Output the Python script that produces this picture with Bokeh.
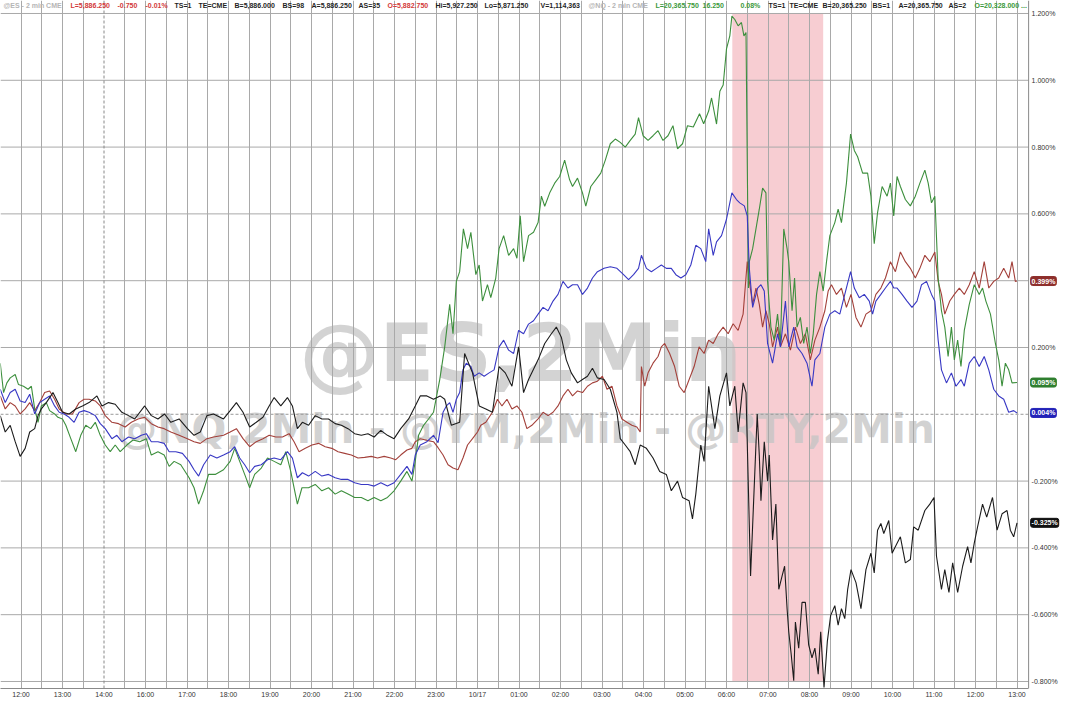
from bokeh.plotting import figure
from bokeh.models import Range1d, FixedTicker, Span, BoxAnnotation, Label, ColumnDataSource
from bokeh.core.properties import value
from bokeh.embed import file_html
from bokeh.resources import INLINE

# ---------------- data (x = session hour slot from 12:00, y = % change) ----------------
time_labels = ["12:00", "13:00", "14:00", "16:00", "17:00", "18:00", "19:00", "20:00", "21:00",
               "22:00", "23:00", "10/17", "01:00", "02:00", "03:00", "04:00", "05:00", "06:00",
               "07:00", "08:00", "09:00", "10:00", "11:00", "12:00", "13:00"]

y_ticks = [-0.8, -0.6, -0.4, -0.2, 0.2, 0.6, 0.8, 1.0, 1.2]
y_grid = [-0.8, -0.6, -0.4, -0.2, 0.2, 0.4, 0.6, 0.8, 1.0, 1.2]

band_start = 17.14   # ~06:08
band_end = 19.33     # ~08:20

rty_pts = [(-0.50,-0.004),(-0.38,-0.053),(-0.26,-0.033),(-0.14,-0.082),(-0.02,-0.126),(0.10,-0.102),(0.21,-0.053),
 (0.33,-0.043),(0.41,-0.004),(0.49,0.016),(0.61,0.035),(0.77,0.065),(0.89,0.035),(1.00,0.006),(1.16,0.001),(1.32,0.016),
 (1.48,0.025),(1.64,0.035),(1.83,0.055),(1.95,0.025),(2.11,0.035),(2.27,0.030),(2.43,0.006),(2.59,-0.004),(2.74,-0.014),
 (2.98,0.025),(3.14,-0.004),(3.30,-0.014),(3.46,0.001),(3.61,-0.024),(3.81,-0.014),(4.01,-0.043),(4.17,-0.063),(4.32,-0.053),
 (4.48,-0.004),(4.64,0.001),(4.88,-0.014),(5.04,0.011),(5.19,0.035),(5.35,0.006),(5.51,-0.038),(5.67,-0.024),(5.83,-0.009),
 (5.98,0.025),(6.10,0.050),(6.26,0.025),(6.42,0.050),(6.54,0.025),(6.66,-0.043),(6.78,-0.024),(6.93,-0.033),(7.09,-0.004),
 (7.25,-0.014),(7.41,-0.014),(7.57,-0.028),(7.72,-0.033),(7.88,-0.043),(8.04,-0.058),(8.20,-0.063),(8.36,-0.058),(8.51,-0.068),
 (8.67,-0.048),(8.83,-0.063),(8.99,-0.073),(9.15,-0.043),(9.34,-0.014),(9.50,0.025),(9.62,0.055),(9.78,0.055),(9.94,0.045),
 (10.10,0.055),(10.21,0.045),(10.37,-0.033),(10.57,-0.024),(10.69,0.182),(10.88,0.124),(11.04,0.025),(11.20,0.016),(11.36,0.006),
 (11.52,0.143),(11.67,0.124),(11.83,0.084),(11.99,0.202),(12.11,0.065),(12.23,0.104),(12.46,0.163),(12.62,0.212),(12.78,0.241),
 (12.90,0.261),(13.02,0.231),(13.14,0.163),(13.26,0.124),(13.41,0.094),(13.53,0.104),(13.65,0.114),(13.77,0.138),(13.89,0.109),
 (14.05,0.104),(14.20,0.075),(14.36,0.006),(14.44,-0.073),(14.56,-0.092),(14.68,-0.112),(14.80,-0.151),(14.92,-0.092),
 (15.07,-0.102),(15.23,-0.131),(15.39,-0.171),(15.55,-0.180),(15.67,-0.229),(15.82,-0.200),(15.94,-0.249),(16.10,-0.259),
 (16.18,-0.313),(16.26,-0.239),(16.38,-0.092),(16.46,-0.141),(16.57,0.084),(16.72,-0.043),(16.84,0.055),(17.00,0.124),
 (17.08,0.025),(17.20,0.084),(17.28,-0.053),(17.40,0.094),(17.47,0.065),(17.58,-0.484),(17.74,0.001),(17.79,-0.122),
 (17.83,-0.259),(17.91,-0.082),(17.99,-0.200),(18.03,-0.122),(18.11,-0.376),(18.19,-0.269),(18.26,-0.524),(18.34,-0.484),
 (18.40,-0.455),(18.46,-0.582),(18.50,-0.651),(18.56,-0.720),(18.62,-0.798),(18.66,-0.622),(18.74,-0.700),(18.82,-0.563),
 (18.90,-0.563),(18.98,-0.690),(19.06,-0.729),(19.13,-0.700),(19.21,-0.778),(19.27,-0.651),(19.35,-0.818),(19.43,-0.680),
 (19.51,-0.602),(19.61,-0.573),(19.69,-0.631),(19.77,-0.582),(19.85,-0.612),(19.92,-0.524),(20.00,-0.465),(20.12,-0.504),
 (20.24,-0.582),(20.36,-0.465),(20.48,-0.416),(20.56,-0.475),(20.64,-0.347),(20.72,-0.327),(20.79,-0.357),(20.91,-0.318),
 (20.99,-0.416),(21.11,-0.386),(21.19,-0.367),(21.31,-0.445),(21.43,-0.435),(21.51,-0.337),(21.62,-0.347),(21.78,-0.288),
 (21.90,-0.269),(22.00,-0.249),(22.06,-0.425),(22.18,-0.524),(22.26,-0.465),(22.36,-0.533),(22.45,-0.445),(22.57,-0.533),
 (22.69,-0.455),(22.81,-0.396),(22.89,-0.445),(22.97,-0.386),(23.05,-0.337),(23.17,-0.269),(23.27,-0.308),(23.41,-0.249),
 (23.52,-0.347),(23.64,-0.298),(23.76,-0.288),(23.84,-0.347),(23.92,-0.367),(24.00,-0.325)]

nq_pts = [(-0.50,0.153),(-0.42,0.065),(-0.34,0.094),(-0.26,0.109),(-0.14,0.119),(-0.06,0.089),(0.06,0.084),(0.17,0.075),
 (0.25,0.084),(0.33,0.016),(0.41,-0.024),(0.49,0.025),(0.61,0.035),(0.69,0.011),(0.81,0.001),(0.89,-0.009),(1.00,-0.014),
 (1.08,-0.033),(1.20,-0.073),(1.32,-0.112),(1.44,-0.063),(1.56,-0.033),(1.68,-0.043),(1.79,-0.024),(1.91,-0.063),(2.03,-0.092),
 (2.15,-0.112),(2.27,-0.092),(2.39,-0.112),(2.55,-0.092),(2.70,-0.077),(2.86,-0.082),(3.02,-0.073),(3.14,-0.122),(3.30,-0.112),
 (3.45,-0.122),(3.57,-0.156),(3.69,-0.141),(3.85,-0.151),(4.05,-0.190),(4.17,-0.220),(4.28,-0.269),(4.40,-0.229),(4.52,-0.180),
 (4.68,-0.180),(4.88,-0.166),(5.04,-0.141),(5.15,-0.102),(5.27,-0.141),(5.39,-0.180),(5.51,-0.220),(5.63,-0.180),(5.79,-0.161),
 (5.94,-0.131),(6.10,-0.141),(6.26,-0.151),(6.38,-0.112),(6.50,-0.171),(6.66,-0.269),(6.77,-0.220),(6.93,-0.220),(7.09,-0.210),
 (7.25,-0.229),(7.41,-0.220),(7.57,-0.239),(7.72,-0.229),(7.88,-0.239),(8.04,-0.249),(8.20,-0.249),(8.36,-0.259),(8.51,-0.249),
 (8.67,-0.259),(8.83,-0.249),(8.99,-0.229),(9.15,-0.200),(9.30,-0.171),(9.42,-0.200),(9.50,-0.141),(9.58,-0.063),(9.70,-0.033),
 (9.82,-0.014),(9.94,0.006),(10.09,0.104),(10.21,0.202),(10.33,0.329),(10.41,0.241),(10.49,0.398),(10.57,0.427),(10.66,0.555),
 (10.76,0.496),(10.84,0.545),(10.96,0.418),(11.04,0.447),(11.12,0.339),(11.24,0.388),(11.32,0.349),(11.44,0.408),(11.52,0.496),
 (11.63,0.535),(11.75,0.476),(11.87,0.496),(11.95,0.467),(12.03,0.594),(12.11,0.457),(12.23,0.535),(12.35,0.545),(12.46,0.574),
 (12.54,0.653),(12.62,0.623),(12.74,0.663),(12.86,0.692),(12.98,0.712),(13.10,0.761),(13.22,0.702),(13.29,0.682),(13.41,0.707),
 (13.53,0.663),(13.61,0.623),(13.73,0.682),(13.85,0.702),(13.97,0.722),(14.08,0.761),(14.20,0.810),(14.32,0.824),(14.44,0.814),
 (14.56,0.800),(14.68,0.820),(14.80,0.839),(14.88,0.888),(14.99,0.834),(15.11,0.820),(15.23,0.834),(15.35,0.849),(15.47,0.820),
 (15.59,0.834),(15.71,0.864),(15.82,0.795),(15.94,0.810),(16.06,0.864),(16.20,0.860),(16.35,0.900),(16.45,0.870),(16.57,0.908),
 (16.64,0.947),(16.76,0.869),(16.84,0.967),(16.92,0.986),(17.00,1.094),(17.08,1.133),(17.13,1.192),(17.20,1.182),(17.28,1.163),
 (17.36,1.173),(17.42,1.133),(17.47,1.143),(17.53,0.378),(17.55,0.457),(17.63,0.496),(17.71,0.555),(17.79,0.614),(17.87,0.677),
 (17.95,0.663),(17.99,0.398),(18.07,0.261),(18.15,0.222),(18.23,0.300),(18.30,0.212),(18.38,0.555),(18.46,0.496),(18.50,0.457),
 (18.58,0.310),(18.64,0.408),(18.70,0.261),(18.78,0.290),(18.86,0.212),(18.94,0.261),(19.02,0.182),(19.09,0.241),(19.17,0.359),
 (19.25,0.427),(19.33,0.369),(19.41,0.457),(19.49,0.535),(19.61,0.574),(19.69,0.614),(19.77,0.574),(19.89,0.692),(19.99,0.839),
 (20.08,0.790),(20.16,0.771),(20.28,0.722),(20.40,0.722),(20.48,0.653),(20.56,0.511),(20.64,0.604),(20.75,0.682),(20.87,0.653),
 (20.95,0.692),(21.03,0.594),(21.11,0.712),(21.19,0.682),(21.31,0.643),(21.43,0.624),(21.55,0.653),(21.66,0.692),(21.78,0.731),
 (21.86,0.692),(21.94,0.633),(22.02,0.653),(22.10,0.408),(22.18,0.310),(22.26,0.261),(22.34,0.173),(22.42,0.261),(22.49,0.163),
 (22.57,0.222),(22.65,0.143),(22.73,0.251),(22.85,0.329),(22.97,0.388),(23.09,0.359),(23.17,0.378),(23.25,0.339),(23.36,0.300),
 (23.48,0.212),(23.56,0.163),(23.64,0.084),(23.72,0.153),(23.80,0.133),(23.88,0.094),(24.00,0.095)]

es_pts = [(-0.50,0.075),(-0.38,0.035),(-0.26,0.065),(-0.14,0.075),(-0.02,0.040),(0.10,0.035),(0.21,0.060),(0.33,0.001),
 (0.45,0.035),(0.57,0.045),(0.69,0.055),(0.81,0.025),(0.92,0.006),(1.04,0.001),(1.16,-0.009),(1.28,-0.024),(1.40,0.006),
 (1.52,0.011),(1.64,0.006),(1.79,-0.004),(1.91,-0.028),(2.03,-0.043),(2.19,-0.073),(2.31,-0.063),(2.43,-0.082),(2.59,-0.068),
 (2.74,-0.073),(2.90,-0.063),(3.02,-0.058),(3.14,-0.082),(3.30,-0.082),(3.45,-0.087),(3.57,-0.112),(3.73,-0.112),(3.89,-0.117),
 (4.05,-0.141),(4.17,-0.166),(4.28,-0.185),(4.40,-0.151),(4.56,-0.122),(4.72,-0.131),(4.88,-0.122),(5.04,-0.112),(5.15,-0.097),
 (5.27,-0.131),(5.39,-0.151),(5.51,-0.175),(5.63,-0.156),(5.79,-0.151),(5.94,-0.136),(6.10,-0.131),(6.26,-0.136),(6.42,-0.112),
 (6.54,-0.131),(6.66,-0.190),(6.78,-0.175),(6.93,-0.185),(7.09,-0.171),(7.25,-0.185),(7.41,-0.180),(7.57,-0.190),(7.72,-0.195),
 (7.88,-0.195),(8.04,-0.205),(8.20,-0.210),(8.36,-0.210),(8.51,-0.215),(8.67,-0.205),(8.83,-0.215),(8.99,-0.205),(9.15,-0.180),
 (9.30,-0.156),(9.42,-0.180),(9.50,-0.122),(9.62,-0.092),(9.78,-0.082),(9.94,-0.063),(10.05,-0.085),(10.17,0.006),(10.25,0.025),
 (10.33,0.035),(10.41,0.006),(10.49,0.045),(10.57,0.065),(10.65,0.133),(10.73,0.153),(10.84,0.143),(10.92,0.114),(11.04,0.124),
 (11.16,0.114),(11.28,0.124),(11.40,0.133),(11.52,0.202),(11.63,0.222),(11.75,0.192),(11.87,0.182),(11.99,0.251),(12.11,0.241),
 (12.23,0.270),(12.35,0.280),(12.46,0.300),(12.58,0.320),(12.70,0.310),(12.82,0.339),(12.94,0.359),(13.06,0.398),(13.18,0.378),
 (13.29,0.388),(13.41,0.388),(13.53,0.359),(13.65,0.378),(13.77,0.408),(13.89,0.427),(14.05,0.437),(14.20,0.442),(14.36,0.437),
 (14.52,0.418),(14.64,0.403),(14.76,0.418),(14.88,0.437),(14.95,0.476),(15.07,0.437),(15.19,0.427),(15.31,0.437),(15.43,0.447),
 (15.55,0.437),(15.67,0.437),(15.78,0.418),(15.90,0.408),(16.02,0.418),(16.14,0.447),(16.26,0.506),(16.38,0.496),(16.50,0.457),
 (16.57,0.555),(16.68,0.476),(16.76,0.516),(16.88,0.535),(17.00,0.584),(17.08,0.633),(17.13,0.663),(17.24,0.643),(17.32,0.633),
 (17.43,0.624),(17.50,0.594),(17.55,0.437),(17.63,0.320),(17.75,0.378),(17.83,0.388),(17.91,0.369),(17.99,0.212),(18.11,0.153),
 (18.23,0.241),(18.30,0.202),(18.42,0.339),(18.50,0.202),(18.62,0.261),(18.70,0.202),(18.82,0.182),(18.94,0.153),(19.06,0.084),
 (19.13,0.163),(19.25,0.182),(19.37,0.261),(19.49,0.300),(19.61,0.310),(19.73,0.300),(19.85,0.359),(19.99,0.427),(20.08,0.378),
 (20.20,0.349),(20.32,0.359),(20.44,0.339),(20.52,0.300),(20.60,0.339),(20.72,0.359),(20.83,0.378),(20.95,0.398),(21.03,0.378),
 (21.11,0.378),(21.23,0.359),(21.35,0.339),(21.47,0.320),(21.59,0.339),(21.70,0.388),(21.82,0.398),(21.94,0.359),(22.02,0.339),
 (22.10,0.222),(22.18,0.133),(22.30,0.094),(22.42,0.124),(22.53,0.084),(22.65,0.104),(22.73,0.084),(22.85,0.153),(22.97,0.173),
 (23.09,0.143),(23.21,0.173),(23.32,0.133),(23.44,0.075),(23.56,0.055),(23.68,0.045),(23.80,0.006),(23.92,0.011),(24.00,0.004)]

ym_pts = [(-0.50,0.055),(-0.38,0.016),(-0.26,0.035),(-0.14,0.025),(-0.02,0.001),(0.10,0.016),(0.21,0.035),(0.33,0.011),
 (0.45,0.035),(0.57,0.065),(0.69,0.070),(0.81,0.045),(0.92,0.016),(1.08,0.001),(1.24,0.001),(1.40,0.035),(1.52,0.045),
 (1.64,0.045),(1.79,0.040),(1.91,0.025),(2.03,-0.004),(2.19,-0.024),(2.35,-0.028),(2.51,-0.038),(2.66,-0.024),(2.82,-0.014),
 (2.98,-0.009),(3.14,-0.028),(3.30,-0.038),(3.45,-0.043),(3.61,-0.053),(3.81,-0.063),(4.01,-0.073),(4.17,-0.082),(4.32,-0.087),
 (4.48,-0.073),(4.64,-0.068),(4.88,-0.063),(5.04,-0.053),(5.19,-0.043),(5.35,-0.073),(5.51,-0.097),(5.67,-0.082),(5.83,-0.073),
 (5.98,-0.063),(6.14,-0.068),(6.30,-0.068),(6.46,-0.058),(6.58,-0.082),(6.70,-0.112),(6.85,-0.102),(7.01,-0.092),(7.17,-0.087),
 (7.33,-0.097),(7.49,-0.102),(7.64,-0.112),(7.80,-0.117),(7.96,-0.122),(8.12,-0.131),(8.28,-0.129),(8.44,-0.126),(8.59,-0.131),
 (8.75,-0.126),(8.91,-0.131),(9.03,-0.136),(9.15,-0.122),(9.30,-0.107),(9.42,-0.102),(9.50,-0.082),(9.62,-0.073),(9.78,-0.078),
 (9.94,-0.082),(10.05,-0.100),(10.17,-0.122),(10.29,-0.151),(10.41,-0.161),(10.53,-0.166),(10.65,-0.131),(10.76,-0.092),
 (10.88,-0.073),(11.00,-0.053),(11.08,-0.033),(11.20,-0.024),(11.36,0.006),(11.48,0.045),(11.59,0.025),(11.71,0.045),
 (11.83,0.016),(11.95,0.025),(12.07,0.006),(12.19,-0.043),(12.31,-0.033),(12.46,-0.014),(12.58,0.006),(12.70,-0.004),
 (12.82,0.006),(12.94,0.025),(13.06,0.055),(13.18,0.075),(13.29,0.055),(13.41,0.070),(13.53,0.065),(13.65,0.084),(13.77,0.094),
 (13.89,0.099),(14.01,0.114),(14.12,0.075),(14.24,0.084),(14.36,0.025),(14.48,-0.014),(14.60,-0.024),(14.72,-0.033),
 (14.84,-0.038),(14.92,-0.053),(14.95,0.143),(15.03,0.084),(15.11,0.124),(15.23,0.153),(15.35,0.173),(15.43,0.202),(15.51,0.212),
 (15.63,0.182),(15.75,0.143),(15.86,0.084),(15.98,0.065),(16.10,0.104),(16.22,0.143),(16.34,0.202),(16.46,0.182),(16.57,0.222),
 (16.68,0.212),(16.80,0.241),(16.92,0.261),(17.04,0.241),(17.16,0.271),(17.28,0.251),(17.40,0.300),(17.50,0.457),(17.55,0.398),
 (17.63,0.329),(17.71,0.378),(17.79,0.329),(17.87,0.261),(17.95,0.310),(18.03,0.271),(18.11,0.202),(18.23,0.261),(18.30,0.202),
 (18.42,0.241),(18.54,0.192),(18.66,0.261),(18.78,0.212),(18.90,0.241),(19.02,0.163),(19.13,0.222),(19.25,0.261),(19.37,0.310),
 (19.45,0.369),(19.53,0.388),(19.65,0.359),(19.77,0.378),(19.89,0.320),(20.00,0.359),(20.12,0.290),(20.24,0.261),(20.36,0.300),
 (20.48,0.310),(20.60,0.359),(20.72,0.378),(20.83,0.408),(20.95,0.457),(21.07,0.427),(21.19,0.486),(21.31,0.457),(21.43,0.437),
 (21.55,0.408),(21.66,0.437),(21.78,0.476),(21.90,0.457),(22.02,0.486),(22.10,0.398),(22.18,0.359),(22.26,0.300),(22.38,0.339),
 (22.49,0.359),(22.61,0.378),(22.73,0.359),(22.85,0.388),(22.97,0.427),(23.09,0.378),(23.21,0.457),(23.32,0.378),(23.44,0.398),
 (23.56,0.408),(23.68,0.437),(23.80,0.408),(23.88,0.457),(23.96,0.398),(24.00,0.399)]

header_parts = [
    ("@ES - 2 min  CME", "grey"), ("L=5,886.250", "red"), ("-0.750", "red"), ("-0.01%", "red"),
    ("TS=1", "black"), ("TE=CME", "black"), ("B=5,886.000", "black"), ("BS=98", "black"),
    ("A=5,886.250", "black"), ("AS=35", "black"), ("O=5,882.750", "red"), ("Hi=5,927.250", "black"),
    ("Lo=5,871.250", "black"), ("V=1,114,363", "black"),
    ("@NQ - 2 min  CME", "grey"), ("L=20,365.750", "green"), ("16.250", "green"), ("0.08%", "green"),
    ("TS=1", "black"), ("TE=CME", "black"), ("B=20,365.250", "black"), ("BS=1", "black"),
    ("A=20,365.750", "black"), ("AS=2", "black"), ("O=20,328.000 ...", "green"),
]

# ---------------- layout / style ----------------
W, H = 1064, 702
X0, XU = 20.5, 41.5              # pixel of slot 0 and pixels per slot (layout only)
AXIS_U = 24.28                   # slot where the right price axis sits
header_px = [3, 70, 117, 145, 174, 198, 234, 282, 311, 358, 387, 435, 484,
             540, 588, 655, 702, 740, 768, 789, 822, 872, 898, 948, 974]
hdr_colors = {"grey": "#b5b5b5", "red": "#d33a3a", "black": "#1f1f1f", "green": "#3b993b"}

C_NQ, C_ES, C_YM, C_RTY = "#3d8f3d", "#3838c4", "#a3403a", "#1c1c1c"
TAG_NQ, TAG_ES, TAG_YM, TAG_RTY = "#2f7f2f", "#2222b8", "#8e2f2c", "#111111"
GRID = "#a9a9a9"
FONT = "Liberation Sans"

p = figure(width=W, height=H, output_backend="svg", toolbar_location=None, tools="",
           x_range=Range1d(-X0 / XU, (W - X0) / XU), y_range=Range1d(-0.821, 1.2389),
           y_axis_location=None, min_border_left=0, min_border_top=0,
           min_border_right=0, min_border_bottom=14,
           background_fill_color="white", border_fill_color="white", outline_line_color=None)

# pink highlight band
p.add_layout(BoxAnnotation(left=band_start, right=band_end, bottom=-0.8, top=1.2,
                           fill_color="#f7cdd2", fill_alpha=1.0, line_color=None, level="image"))

# watermarks
p.add_layout(Label(x=12.04, y=0.182, text="@ES,2Min", text_font="DejaVu Sans", text_font_style="bold",
                   text_font_size="80px", text_color="#c4c4c4", text_alpha=0.75,
                   text_align="center", text_baseline="alphabetic", level="image"))
p.add_layout(Label(x=12.16, y=-0.045, text="@NQ,2Min - @YM,2Min - @RTY,2Min", text_font="DejaVu Sans",
                   text_font_style="bold", text_font_size="41px", text_color="#c4c4c4", text_alpha=0.75,
                   text_align="center", text_baseline="alphabetic", level="image"))

# vertical grid (half hours), dashed session line at 14:00
p.xgrid.ticker = FixedTicker(ticks=[k * 0.5 for k in range(49) if k != 4])
p.xgrid.grid_line_color = GRID
p.xgrid.grid_line_width = 1
p.ygrid.grid_line_color = None
p.add_layout(Span(location=2, dimension="height", line_color="#888888", line_dash="3 2",
                  line_width=1, level="underlay"))

# horizontal grid up to the price axis, dashed zero line
hg = p.segment(x0=[-X0 / XU] * len(y_grid), x1=[AXIS_U] * len(y_grid), y0=y_grid, y1=y_grid,
               line_color=GRID, line_width=1)
hg.level = "underlay"
zl = p.segment(x0=[-X0 / XU], x1=[AXIS_U], y0=[0], y1=[0], line_color="#999999", line_dash="3 2", line_width=1)
zl.level = "underlay"

# price axis line and labels on the right
p.add_layout(Span(location=AXIS_U, dimension="height", line_color="#8a8a8a", line_width=1, level="underlay"))
ylab = ColumnDataSource(dict(x=[AXIS_U + 3 / XU] * len(y_ticks), y=y_ticks,
                             text=[f"{v:.3f}%" for v in y_ticks]))
p.text(x="x", y="y", text="text", source=ylab, text_font=value(FONT), text_font_size="7px",
       text_color="#333333", text_align="left", text_baseline="middle")

# time axis
p.xaxis.ticker = FixedTicker(ticks=list(range(len(time_labels))))
p.xaxis.major_label_overrides = {i: lab for i, lab in enumerate(time_labels)}
p.xaxis.bounds = (-X0 / XU, AXIS_U)
p.xaxis.major_tick_line_color = None
p.xaxis.major_tick_out = 0
p.xaxis.major_tick_in = 0
p.xaxis.minor_tick_line_color = None
p.xaxis.axis_line_color = "#8a8a8a"
p.xaxis.major_label_text_font = FONT
p.xaxis.major_label_text_font_size = "7px"
p.xaxis.major_label_text_color = "#333333"
p.xaxis.major_label_standoff = 2

# series
for pts, col in [(ym_pts, C_YM), (nq_pts, C_NQ), (es_pts, C_ES), (rty_pts, C_RTY)]:
    xs = [a for a, b in pts]
    ys = [b for a, b in pts]
    p.line(xs, ys, line_color=col, line_width=1.1)

# header line
hdr = ColumnDataSource(dict(
    x=[(px - X0) / XU for px in header_px],
    y=[1.224] * len(header_parts),
    text=[t for t, c in header_parts],
    color=[hdr_colors[c] for t, c in header_parts],
))
p.text(x="x", y="y", text="text", text_color="color", source=hdr,
       text_font=value(FONT), text_font_style="bold", text_font_size="7px",
       text_align="left", text_baseline="middle")

# last-value tags on the price axis
for pts, col in [(ym_pts, TAG_YM), (nq_pts, TAG_NQ), (es_pts, TAG_ES), (rty_pts, TAG_RTY)]:
    last = pts[-1][1]
    p.add_layout(Label(x=AXIS_U + 2 / XU, y=last, text=f"{last:.3f}%", text_color="white",
                       text_font=FONT, text_font_style="bold", text_font_size="7px",
                       text_align="left", text_baseline="middle",
                       background_fill_color=col, border_line_color=col,
                       padding=1, border_radius=2))

open("out.html", "w").write(file_html(p, INLINE))
